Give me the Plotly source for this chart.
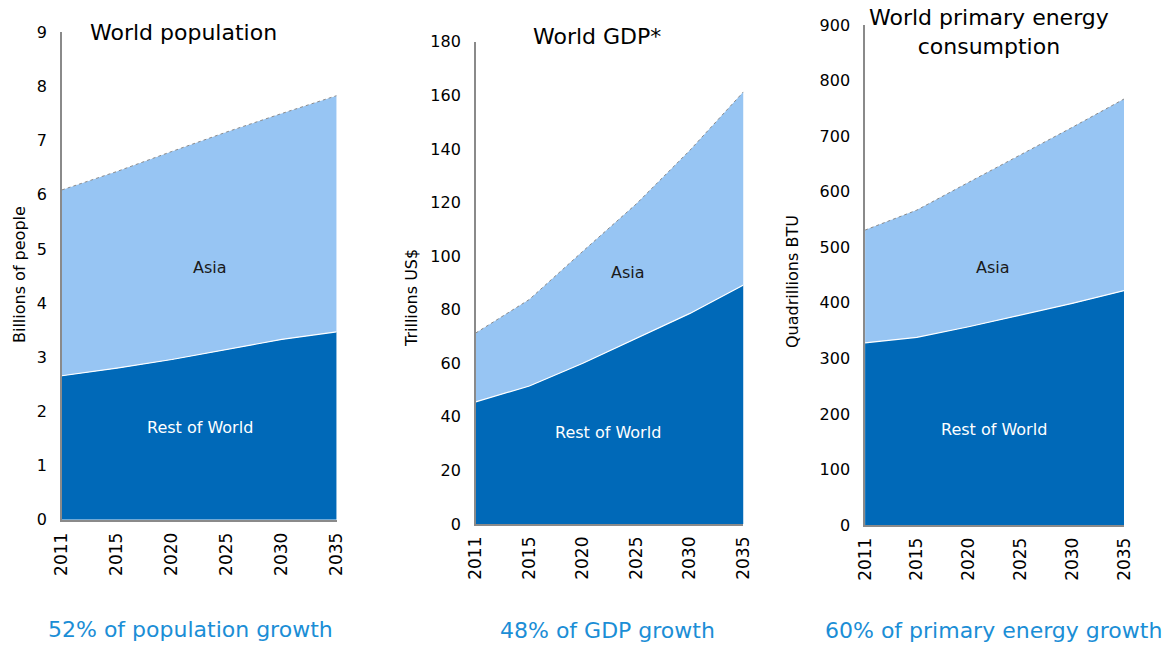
import plotly.graph_objects as go

years = ["2011", "2015", "2020", "2025", "2030", "2035"]

pop_rest = [2.66, 2.80, 2.96, 3.15, 3.33, 3.47]
pop_asia = [3.43, 3.63, 3.84, 4.01, 4.17, 4.36]

gdp_rest = [45.6, 51.5, 60.0, 69.3, 78.6, 89.2]
gdp_asia = [25.7, 32.3, 41.8, 50.2, 60.9, 72.1]

energy_rest = [328, 338, 357, 378, 399, 422]
energy_asia = [203, 229, 260, 288, 317, 345]

titles = ["World population", "World GDP*", "World primary energy<br>consumption"]
ytitles = ["Billions of people", "Trillions US$", "Quadrillions BTU"]
captions = ["52% of population growth", "48% of GDP growth", "60% of primary energy growth"]
yranges = [[0, 9], [0, 180], [0, 900]]
ydticks = [1, 20, 100]

DARK = "#0069B8"
LIGHT = "#97C5F3"
CAPTION = "#1B8ED6"
FONT = "DejaVu Sans"

xdomains = [[0.053, 0.288], [0.407, 0.636], [0.740, 0.9615]]
ydomains = [[0.194, 0.950], [0.1876, 0.9353], [0.186, 0.961]]

series = [(pop_rest, pop_asia), (gdp_rest, gdp_asia), (energy_rest, energy_asia)]
xs = list(range(len(years)))

fig = go.Figure()
for i, (rest, asia) in enumerate(series):
    sfx = "" if i == 0 else str(i + 1)
    fig.add_trace(go.Scatter(
        x=xs, y=rest, stackgroup=f"s{i}", mode="lines",
        line=dict(color="white", width=1.2), fillcolor=DARK,
        xaxis="x" + sfx, yaxis="y" + sfx, showlegend=False, hoverinfo="skip"))
    fig.add_trace(go.Scatter(
        x=xs, y=asia, stackgroup=f"s{i}", mode="lines",
        line=dict(color="#8a8a8a", width=1, dash="dot"), fillcolor=LIGHT,
        xaxis="x" + sfx, yaxis="y" + sfx, showlegend=False, hoverinfo="skip"))

layout = dict(
    width=1169, height=645,
    margin=dict(l=0, r=0, t=0, b=0, autoexpand=False),
    paper_bgcolor="white", plot_bgcolor="white",
    font=dict(family=FONT, color="black"),
    annotations=[],
)

for i in range(3):
    sfx = "" if i == 0 else str(i + 1)
    layout["xaxis" + sfx] = dict(
        domain=xdomains[i], anchor="y" + sfx, range=[0, 5],
        tickvals=xs, ticktext=years, tickangle=-90,
        tickfont=dict(size=17, family=FONT, color="black"),
        showgrid=False, zeroline=False, showline=True,
        linecolor="#8a8a8a", linewidth=2 if i == 0 else 1.5,
        ticks="", ticklabelstandoff=4, automargin=False,
    )
    layout["yaxis" + sfx] = dict(
        domain=ydomains[i], anchor="x" + sfx, range=yranges[i],
        dtick=ydticks[i], tick0=0,
        tickfont=dict(size=16, family=FONT, color="black"),
        showgrid=False, zeroline=False, showline=True,
        linecolor="#8a8a8a", linewidth=1.5,
        ticks="", ticklabelstandoff=10, automargin=False,
    )

def ann(text, px, py, size, color, angle=0):
    return dict(
        text=text, x=px / 1169, y=1 - py / 645, xref="paper", yref="paper",
        showarrow=False, textangle=angle,
        font=dict(size=size, family=FONT, color=color),
        xanchor="center", yanchor="middle")

# y-axis titles
ytitle_pos = [(19, 275), (411, 298), (792, 282)]
for (yx, yy), t in zip(ytitle_pos, ytitles):
    layout["annotations"].append(ann(t, yx, yy, 16, "black", -90))

# titles
title_pos = [(183, 33), (597, 36), (989, 32)]
for (tx, ty), t in zip(title_pos, titles):
    layout["annotations"].append(ann(t, tx, ty, 22, "black"))

# in-plot labels
asia_pos = [(210, 268), (628, 272), (993, 267)]
rest_pos = [(200, 427), (608, 432), (994, 429)]
for (ax, ay) in asia_pos:
    layout["annotations"].append(ann("Asia", ax, ay, 16, "#1a1a1a"))
for (rx, ry) in rest_pos:
    layout["annotations"].append(ann("Rest of World", rx, ry, 16, "white"))

cap_pos = [(190, 629), (607, 630), (993, 630)]
for (cx, cy), c in zip(cap_pos, captions):
    layout["annotations"].append(ann(c, cx, cy, 22, CAPTION))

fig.update_layout(**layout)
fig.write_html("out.html")
